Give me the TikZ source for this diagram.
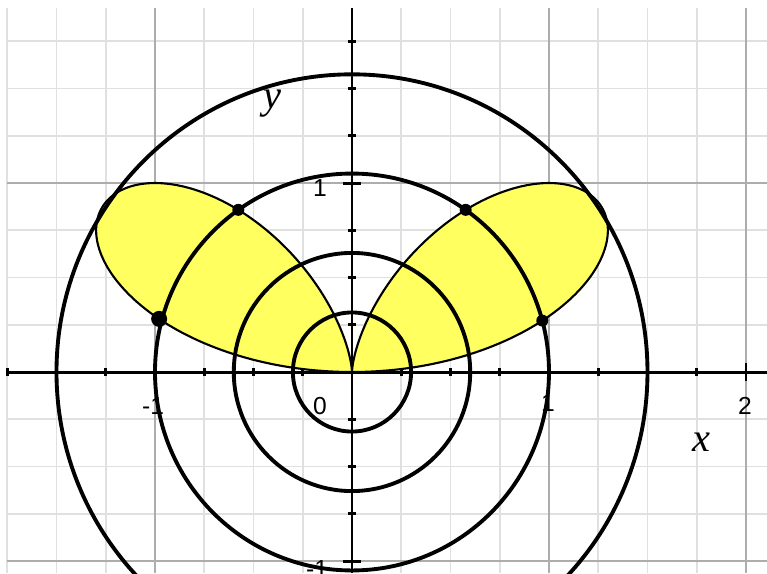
\documentclass[tikz,border=0pt]{standalone}
\usepackage{fontspec}
\usepackage{tikz}
\newfontfamily\numfont{Liberation Sans}
\newfontfamily\varfont{Liberation Serif}
\definecolor{lobeyellow}{RGB}{255,255,95}

\begin{document}
\begin{tikzpicture}[x=3.94cm, y=3.78cm,
        minorgrid/.style={draw=black!12, line width=0.9pt},
        majorgrid/.style={draw=black!32, line width=0.9pt},
        axisline/.style={line width=1.7pt},
        ring/.style={line width=2.2pt},
        num/.style={font=\numfont\fontsize{14}{14}\selectfont, inner sep=0pt},
        var/.style={font=\varfont\itshape\fontsize{23}{23}\selectfont, inner sep=0pt}]
        \useasboundingbox (-1.7868,-1.0635) rectangle (2.1066,1.9683);
        % Background grid
        \foreach \gx in {-1.75,-1.5,...,2}
            \draw[minorgrid] (\gx,-1.0635) -- (\gx,1.926);
        \foreach \gy in {-1,-0.75,...,1.75}
            \draw[minorgrid] (-1.75,\gy) -- (2.1066,\gy);
        \foreach \gx in {-1,1,2}
            \draw[majorgrid] (\gx,-1.0635) -- (\gx,1.926);
        \foreach \gy in {-1,1}
            \draw[majorgrid] (-1.75,\gy) -- (2.1066,\gy);
        % Bifolium r = 4 sin(t) cos^2(t)
        \filldraw[fill=lobeyellow, draw=black, line width=1.2pt]
            plot[domain=0:180, samples=361, variable=\t]
            ({4*sin(\t)*cos(\t)*cos(\t)*cos(\t)}, {4*sin(\t)*sin(\t)*cos(\t)*cos(\t)}) -- cycle;
        % Tick labels
        \node[num] (xmone) at (-1.01,-0.18) {-1};
        \node[num] (xzero) at (-0.162,-0.18) {0};
        \node[num] (xone) at (0.995,-0.165) {1};
        \node[num] (xtwo) at (1.995,-0.18) {2};
        \node[num] (yone) at (-0.162,0.974) {1};
        \node[num, anchor=east] (ymone) at (-0.12,-1.045) {-1};
        % Axes with ticks
        \draw[axisline] (-1.746,0) -- (2.1066,0);
        \draw[axisline] (0,-1.0635) -- (0,1.926);
        \foreach \tx in {-1.75,-1.5,...,2}
            \draw[axisline] (\tx,0) ++(0,-0.08cm) -- ++(0,0.16cm);
        \foreach \tx in {-1,1,2}
            \draw[axisline] (\tx,0) ++(0,-0.18cm) -- ++(0,0.36cm);
        \foreach \ty in {-1,-0.75,...,1.75}
            \draw[axisline] (0,\ty) ++(-0.08cm,0) -- ++(0.16cm,0);
        \foreach \ty in {-1,1}
            \draw[axisline] (0,\ty) ++(-0.18cm,0) -- ++(0.36cm,0);
        % Level circles
        \foreach \r/\ry in {0.3/0.315, 0.6/0.63, 1/1.05, 1.5/1.575}
            \draw[ring] (0,0) ellipse[x radius=\r, y radius=\ry];
        % Crossing points of the unit circle with the curve
        \coordinate (cutA) at (0.966,0.272);
        \coordinate (cutB) at (0.577,0.858);
        \coordinate (cutC) at (-0.577,0.858);
        \coordinate (cutD) at (-0.979,0.281);
        \foreach \p in {cutA,cutB,cutC}
            \fill (\p) circle (0.12cm);
        \fill (cutD) circle (0.16cm);
        % Axis names
        \node[var] (xname) at (1.775,-0.369) {x};
        \node[var] (yname) at (-0.404,1.421) {y};
\end{tikzpicture}
\end{document}
